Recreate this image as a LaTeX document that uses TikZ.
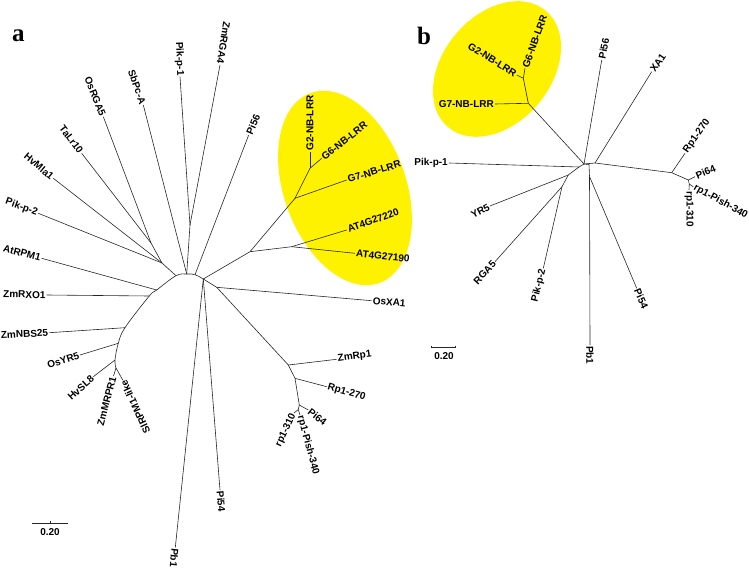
\documentclass[tikz,border=0pt]{standalone}
\usepackage{fontspec}
\setmainfont{Liberation Sans}
\newfontfamily\panelfont{Liberation Serif}
\begin{document}
\begin{tikzpicture}[x=1pt,y=-1pt,
  br/.style={draw=black!85, line width=0.6pt},
  lab/.style={font=\fontsize{10}{12}\selectfont\bfseries, inner sep=1pt},
  pan/.style={font=\panelfont\bfseries\fontsize{25}{28}\selectfont, inner sep=0pt}]
\useasboundingbox (0,0) rectangle (749,569);
% ---------- highlight ellipses ----------
\fill[yellow, rotate around={-70:(345,188)}] (345,188) ellipse [x radius=101, y radius=61];
\fill[yellow, rotate around={50:(497,69)}] (497,69) ellipse [x radius=76, y radius=54];
% ---------- panel letters ----------
\node[pan, anchor=base west] (pa) at (12,42) {a};
\node[pan, anchor=base west] (pb) at (417,45) {b};
% ================= tree a =================
\coordinate (A1) at (116,368);
\coordinate (A2) at (115,360);
\coordinate (A3) at (118.3,343.3);
\coordinate (A4) at (125,327.7);
\coordinate (A5) at (149.3,296);
\coordinate (A6) at (156.7,290);
\coordinate (A7) at (176,275.7);
\coordinate (A8) at (186.7,274);
\coordinate (A9) at (195,274.7);
\coordinate (A10) at (203.3,279);
\coordinate (A11) at (216.7,287.3);
\coordinate (N1) at (151,243);
\coordinate (N2) at (162,263);
\coordinate (P1) at (190,225);
\coordinate (Gx) at (250,251.7);
\coordinate (G1) at (295,198.3);
\coordinate (G2) at (310,168.3);
\coordinate (AT) at (291.7,246.7);
\coordinate (R1) at (288.3,365);
\coordinate (R2) at (295,378.3);
\coordinate (R3) at (299.3,405);
\coordinate (R4) at (298.3,409.5);
% labels a
\node[lab, anchor=east, rotate=-20] (a1) at (38.3,213.3) {Pik-p-2};
\node[lab, anchor=east, rotate=-40] (a2) at (53.3,178.3) {HvMla1};
\node[lab, anchor=east, rotate=-53] (a3) at (81.7,153.3) {TaLr10};
\node[lab, anchor=east, rotate=-68] (a4) at (103.3,116.7) {OsRGA5};
\node[lab, anchor=east, rotate=-71] (a5) at (143.3,105) {SbPc-A};
\node[lab, anchor=east, rotate=-88] (a6) at (180,76.7) {Pik-p-1};
\node[lab, anchor=east, rotate=-99] (a7) at (220,65) {ZmRGA4};
\node[lab, anchor=west, rotate=67] (a8) at (248.7,135) {Pi56};
\node[lab, anchor=west, rotate=90] (a9) at (310,151.7) {G2-NB-LRR};
\node[lab, anchor=west, rotate=38] (a10) at (321.7,158.3) {G6-NB-LRR};
\node[lab, anchor=west, rotate=17] (a11) at (346.7,180) {G7-NB-LRR};
\node[lab, anchor=west, rotate=20] (a12) at (346.7,230) {AT4G27220};
\node[lab, anchor=west, rotate=-6] (a13) at (355,253.3) {AT4G27190};
\node[lab, anchor=west, rotate=-5] (a14) at (371.7,300.7) {OsXA1};
\node[lab, anchor=west, rotate=8] (a15) at (336.7,359.3) {ZmRp1};
\node[lab, anchor=west, rotate=-16] (a16) at (326.7,386.7) {Rp1-270};
\node[lab, anchor=west, rotate=-38] (a17) at (308.3,410) {Pi64};
\node[lab, anchor=west, rotate=-75] (a18) at (300,415) {rp1-Pish-340};
\node[lab, anchor=east, rotate=65] (a19) at (294,413) {rp1-310};
\node[lab, anchor=west, rotate=-85] (a20) at (220,490) {Pi54};
\node[lab, anchor=west, rotate=-96] (a21) at (175.3,547.5) {Pb1};
\node[lab, anchor=east, rotate=-15] (a22) at (41.7,258.3) {AtRPM1};
\node[lab, anchor=east, rotate=-1] (a23) at (46.7,295) {ZmRXO1};
\node[lab, anchor=east, rotate=3] (a24) at (49.3,332.7) {ZmNBS25};
\node[lab, anchor=east, rotate=18] (a25) at (80,355) {OsYR5};
\node[lab, anchor=east, rotate=42] (a26) at (93.3,376.7) {HvSL8};
\node[lab, anchor=east, rotate=75] (a27) at (113.5,376) {ZmMRPR1};
\node[lab, anchor=east, rotate=115] (a28) at (122.7,380) {SlRPM1-like};
% branches a
\draw[br] plot[smooth, tension=0.6] coordinates {(A1) (A2) (A3) (A4) (A5) (A6) (A7) (A8) (A9) (A10)};
\draw[br] (A1) -- (a27.east);
\draw[br] (A1) -- (a28.east);
\draw[br] (A2) -- (a26.east);
\draw[br] (A3) -- (a25.east);
\draw[br] (A4) -- (a24.east);
\draw[br] (A5) -- (a23.east);
\draw[br] (A6) -- (a22.east);
\draw[br] (A7) -- (N2);
\draw[br] (N2) -- (a1.east);
\draw[br] (N2) -- (a2.east);
\draw[br] (N2) -- (N1);
\draw[br] (N1) -- (a3.east);
\draw[br] (N1) -- (a4.east);
\draw[br] (A8) -- (a5.east);
\draw[br] (A8) -- (P1);
\draw[br] (P1) -- (a6.east);
\draw[br] (P1) -- (a7.east);
\draw[br] (A9) -- (a8.west);
\draw[br] (A10) -- (Gx);
\draw[br] (Gx) -- (G1);
\draw[br] (Gx) -- (AT);
\draw[br] (G1) -- (a11.west);
\draw[br] (G1) -- (G2);
\draw[br] (G2) -- (a9.west);
\draw[br] (G2) -- (a10.west);
\draw[br] (AT) -- (a12.west);
\draw[br] (AT) -- (a13.west);
\draw[br] (A10) -- (a21.west);
\draw[br] (A10) -- (a20.west);
\draw[br] (A10) -- (A11);
\draw[br] (A11) -- (a14.west);
\draw[br] (A11) -- (R1);
\draw[br] (R1) -- (a15.west);
\draw[br] (R1) -- (R2);
\draw[br] (R2) -- (a16.west);
\draw[br] (R2) -- (R3);
\draw[br] (R3) -- (a17.west);
\draw[br] (R3) -- (R4);
\draw[br] (R4) -- (a18.west);
\draw[br] (R4) -- (a19.east);
% scale bar a
\coordinate (sa1) at (32.3,523.3);
\coordinate (sa2) at (68.3,523.3);
\coordinate (sam) at (50,523.3);
\coordinate (sat) at (50,521);
\draw[br] (sa1) -- (sa2);
\draw[br] (sam) -- (sat);
\node[lab, anchor=north] (sal) at (50,527.5) {0.20};
% ================= tree b =================
\coordinate (Bc) at (584,164);
\coordinate (Bd) at (579,167);
\coordinate (Be) at (568.3,175);
\coordinate (Bf) at (562,186.7);
\coordinate (Bg) at (589,164.5);
\coordinate (Bh) at (589.5,176.5);
\coordinate (Bn1) at (595,163);
\coordinate (Gb1) at (528.3,103.3);
\coordinate (Gb2) at (523.3,78.3);
\coordinate (Rb1) at (671.7,172.7);
\coordinate (Rb2) at (688.3,180);
\coordinate (Rb3) at (689.3,184);
\node[lab, anchor=east] (b1) at (495,104) {G7-NB-LRR};
\node[lab, anchor=east, rotate=-32] (b2) at (516.7,75) {G2-NB-LRR};
\node[lab, anchor=west, rotate=70] (b3) at (525,68.3) {G6-NB-LRR};
\node[lab, anchor=east] (b4) at (449,163) {Pik-p-1};
\node[lab, anchor=west, rotate=79] (b5) at (601.7,60) {Pi56};
\node[lab, anchor=west, rotate=55] (b6) at (651.7,71.7) {XA1};
\node[lab, anchor=west, rotate=55] (b7) at (685,153.3) {Rp1-270};
\node[lab, anchor=west, rotate=23] (b8) at (695,176.7) {Pi64};
\node[lab, anchor=west, rotate=-29] (b9) at (693.3,186.7) {rp1-Pish-340};
\node[lab, anchor=west, rotate=-90] (b10) at (689,190) {rp1-310};
\node[lab, anchor=east, rotate=28] (b11) at (490,206) {YR5};
\node[lab, anchor=east, rotate=47] (b12) at (495,261.7) {RGA5};
\node[lab, anchor=east, rotate=76] (b13) at (543.3,268.3) {Pik-p-2};
\node[lab, anchor=west, rotate=-90] (b14) at (590,345) {Pb1};
\node[lab, anchor=west, rotate=-67] (b15) at (636.7,288.3) {Pi54};
\draw[br] (Bc) -- (Gb1);
\draw[br] (Gb1) -- (b1.east);
\draw[br] (Gb1) -- (Gb2);
\draw[br] (Gb2) -- (b2.east);
\draw[br] (Gb2) -- (b3.west);
\draw[br] (Bc) -- (b5.west);
\draw[br] (Bc) -- (Bn1);
\draw[br] (Bn1) -- (b6.west);
\draw[br] (Bn1) -- (Rb1);
\draw[br] (Rb1) -- (b7.west);
\draw[br] (Rb1) -- (Rb2);
\draw[br] (Rb2) -- (b8.west);
\draw[br] (Rb2) -- (Rb3);
\draw[br] (Rb3) -- (b9.west);
\draw[br] (Rb3) -- (b10.west);
\draw[br] (Bc) -- (Bd);
\draw[br] (Bd) -- (b4.east);
\draw[br] (Bd) -- (Be);
\draw[br] (Be) -- (b11.east);
\draw[br] (Be) -- (Bf);
\draw[br] (Bf) -- (b12.east);
\draw[br] (Bf) -- (b13.east);
\draw[br] (Bc) -- (Bg);
\draw[br] (Bg) -- (Bh);
\draw[br] (Bh) -- (b14.west);
\draw[br] (Bh) -- (b15.west);
% scale bar b
\coordinate (sb1) at (431.7,347.7);
\coordinate (sb2) at (455.7,347.7);
\coordinate (sb1t) at (431.7,345.5);
\coordinate (sb2t) at (455.7,345.5);
\draw[br] (sb1t) -- (sb1) -- (sb2) -- (sb2t);
\node[lab, anchor=north] (sbl) at (444,351.5) {0.20};
\end{tikzpicture}
\end{document}
